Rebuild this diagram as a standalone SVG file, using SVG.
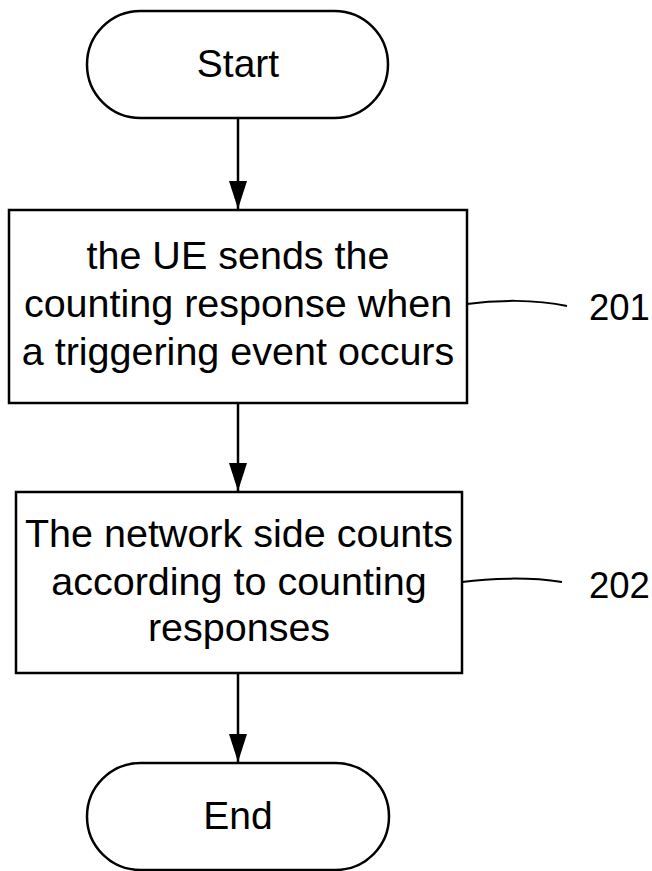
<svg xmlns="http://www.w3.org/2000/svg" width="652" height="871" viewBox="0 0 652 871">
<style>
.shape{fill:#fff;stroke:#000;stroke-width:2.5}
.conn{fill:none;stroke:#000;stroke-width:2.5}
.lead{fill:none;stroke:#000;stroke-width:2}
text{font-family:"Liberation Sans",Arial,sans-serif;font-size:39.5px;fill:#000;text-anchor:middle}
.term{font-size:39px}
.lbl{text-anchor:start;font-size:36.5px}
</style>
<defs>
<marker id="arr" markerUnits="userSpaceOnUse" markerWidth="28" markerHeight="18" refX="28" refY="9" viewBox="0 0 28 18" orient="auto">
<path d="M0,0 L28,9 L0,18 Z" fill="#000"/>
</marker>
</defs>
<rect width="652" height="871" fill="#fff"/>
<g id="connectors">
<line class="conn" x1="238" y1="118" x2="238" y2="209" marker-end="url(#arr)"/>
<line class="conn" x1="238" y1="403" x2="238" y2="491" marker-end="url(#arr)"/>
<line class="conn" x1="238" y1="673" x2="238" y2="762" marker-end="url(#arr)"/>
<path class="lead" d="M467,304 C495,300 535,299 567,306"/>
<path class="lead" d="M462,582 C490,578 530,577 562,582"/>
</g>
<g id="start">
<rect class="shape" x="87" y="11" width="301" height="107" rx="53.5" ry="53.5"/>
<text class="term" x="238" y="77">Start</text>
</g>
<g id="step201">
<rect class="shape" x="9" y="210" width="458" height="193"/>
<text x="238" y="269">the UE sends the</text>
<text x="238" y="317">counting response when</text>
<text x="238" y="365">a triggering event occurs</text>
</g>
<g id="step202">
<rect class="shape" x="16" y="492" width="446" height="181"/>
<text x="239" y="547">The network side counts</text>
<text x="239" y="595">according to counting</text>
<text x="239" y="641">responses</text>
</g>
<g id="end">
<rect class="shape" x="87" y="763" width="302" height="107" rx="53.5" ry="53.5"/>
<text class="term" x="238" y="829">End</text>
</g>
<g id="label201"><text class="lbl" x="589" y="320">201</text></g>
<g id="label202"><text class="lbl" x="589" y="598">202</text></g>
</svg>
